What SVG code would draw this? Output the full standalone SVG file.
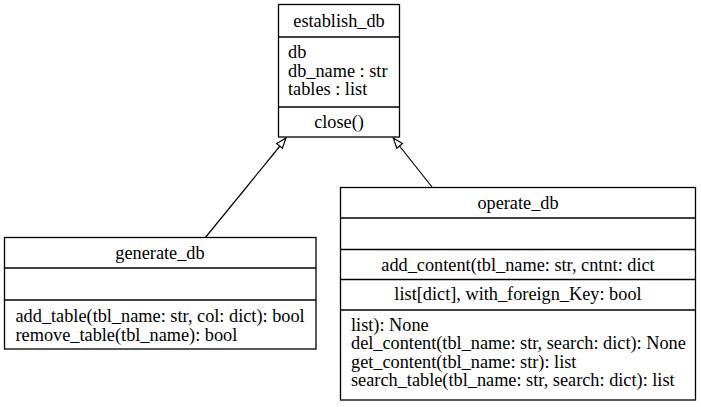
<svg xmlns="http://www.w3.org/2000/svg" width="701" height="407" viewBox="0 0 701 407">
<style>
.box{fill:#fff;stroke:#000;stroke-width:1.3}
.ln{stroke:#000;stroke-width:1.3;fill:none}
.c{text-anchor:middle}
.edge{stroke:#000;stroke-width:1.2;fill:none}
.head{fill:#fff;stroke:#000;stroke-width:1.2}
</style>
<rect width="701" height="407" fill="#fff"/>
<g id="connectors">
<line class="edge" x1="205" y1="238" x2="280" y2="146"/>
<polygon class="head" points="286,138 282.4,148.2 276.8,143.6"/>
<line class="edge" x1="432" y1="187" x2="399.5" y2="146"/>
<polygon class="head" points="393.3,138 402.4,143.6 396.8,148.2"/>
</g>
<g font-family="Liberation Serif, serif" font-size="18.3" fill="#000">
<g id="establish_db">
<rect class="box" x="278.5" y="4.5" width="121" height="132.5"/>
<line class="ln" x1="278.5" y1="37" x2="399.5" y2="37"/>
<line class="ln" x1="278.5" y1="107" x2="399.5" y2="107"/>
<text class="c" x="339" y="27">establish_db</text>
<text x="288" y="58">db</text>
<text x="288" y="76.5">db_name : str</text>
<text x="288" y="95">tables : list</text>
<text class="c" x="339" y="128">close()</text>
</g>
<g id="generate_db">
<rect class="box" x="4.5" y="237.5" width="311.5" height="111.5"/>
<line class="ln" x1="4.5" y1="268" x2="316" y2="268"/>
<line class="ln" x1="4.5" y1="300" x2="316" y2="300"/>
<text class="c" x="160" y="259">generate_db</text>
<text x="15.5" y="322">add_table(tbl_name: str, col: dict): bool</text>
<text x="15.5" y="340.5">remove_table(tbl_name): bool</text>
</g>
<g id="operate_db">
<rect class="box" x="340.5" y="187.5" width="355" height="212.5"/>
<line class="ln" x1="340.5" y1="218" x2="695.5" y2="218"/>
<line class="ln" x1="340.5" y1="249.5" x2="695.5" y2="249.5"/>
<line class="ln" x1="340.5" y1="279.5" x2="695.5" y2="279.5"/>
<line class="ln" x1="340.5" y1="310" x2="695.5" y2="310"/>
<text class="c" x="518" y="209">operate_db</text>
<text class="c" x="518" y="270.5">add_content(tbl_name: str, cntnt: dict</text>
<text class="c" x="518" y="300">list[dict], with_foreign_Key: bool</text>
<text x="351" y="330.5">list): None</text>
<text x="351" y="349">del_content(tbl_name: str, search: dict): None</text>
<text x="351" y="367.5">get_content(tbl_name: str): list</text>
<text x="351" y="386">search_table(tbl_name: str, search: dict): list</text>
</g>
</g>
</svg>
